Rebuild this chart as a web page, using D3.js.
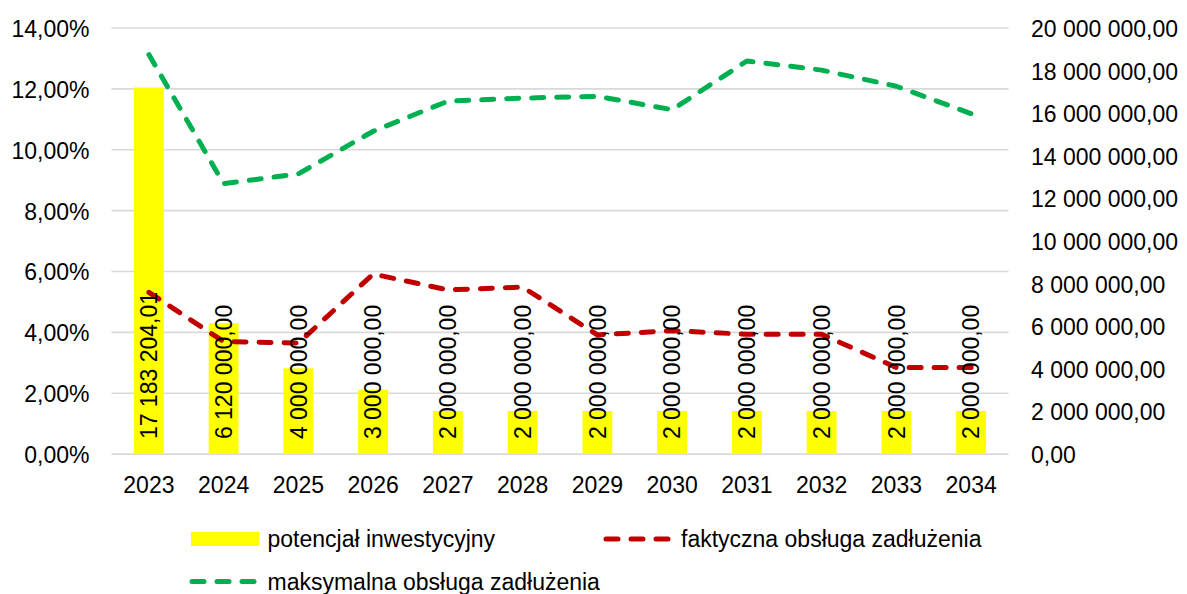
<!DOCTYPE html>
<html>
<head>
<meta charset="utf-8">
<script src="https://cdn.jsdelivr.net/npm/d3@7"></script>
<style>
  html, body { margin: 0; padding: 0; background: #ffffff; }
  svg { display: block; font-family: "Liberation Sans", Arial, sans-serif; }
</style>
</head>
<body>
<svg id="chart" width="1187" height="594"></svg>
<script>
// ---- data ----
const years = ["2023","2024","2025","2026","2027","2028","2029","2030","2031","2032","2033","2034"];
const potencjal = [17183204.01, 6120000, 4000000, 3000000, 2000000, 2000000, 2000000, 2000000, 2000000, 2000000, 2000000, 2000000];
const faktyczna = [0.0530, 0.0368, 0.0363, 0.0590, 0.0538, 0.0547, 0.0390, 0.0404, 0.0392, 0.0392, 0.0283, 0.0283];
const maksymalna = [0.1311, 0.0887, 0.0919, 0.1059, 0.1158, 0.1168, 0.1174, 0.1130, 0.1290, 0.1260, 0.1207, 0.1117];
const leftTicks = [0, 0.02, 0.04, 0.06, 0.08, 0.10, 0.12, 0.14];
const rightTicks = [0, 2e6, 4e6, 6e6, 8e6, 10e6, 12e6, 14e6, 16e6, 18e6, 20e6];
const legendLabels = ["potencjał inwestycyjny", "faktyczna obsługa zadłużenia", "maksymalna obsługa zadłużenia"];

// ---- layout ----
const L = 111.5, R = 1008.5, T = 27.5, B = 453.6;
const FS = 23;
const COL_BAR = "#FFFF00", COL_RED = "#C00000", COL_GREEN = "#00B050", COL_GRID = "#D9D9D9";

const loc = d3.formatLocale({decimal: ",", thousands: " ", grouping: [3], currency: ["", ""], percent: "%"});
const fmtPct = loc.format(".2%");
const fmtNum = loc.format(",.2f");

const svg = d3.select("#chart");

const x = d3.scaleBand().domain(years).range([L, R]).paddingInner(0).paddingOuter(0);
const yL = d3.scaleLinear().domain([0, 0.14]).range([B, T]);
const yR = d3.scaleLinear().domain([0, 20e6]).range([B, T]);

// gridlines
const grid = svg.append("g").attr("transform", `translate(${L},0)`)
  .call(d3.axisLeft(yL).tickValues(leftTicks).tickSize(-(R - L)).tickFormat(""));
grid.select(".domain").remove();
grid.selectAll("line").attr("stroke", COL_GRID).attr("stroke-width", 1.6);

// left axis labels
const gl = svg.append("g").attr("transform", `translate(${L},0)`)
  .call(d3.axisLeft(yL).tickValues(leftTicks).tickSize(0).tickPadding(22).tickFormat(fmtPct));
gl.select(".domain").remove();
gl.selectAll("text").attr("font-size", FS).attr("font-family", "Liberation Sans, Arial, sans-serif")
  .attr("fill", "#000").attr("dy", "0.39em");

// right axis labels
const gr = svg.append("g").attr("transform", `translate(${R},0)`)
  .call(d3.axisRight(yR).tickValues(rightTicks).tickSize(0).tickPadding(22.5).tickFormat(fmtNum));
gr.select(".domain").remove();
gr.selectAll("text").attr("font-size", FS).attr("font-family", "Liberation Sans, Arial, sans-serif")
  .attr("fill", "#000").attr("dy", "0.39em");

// bottom axis labels
const gb = svg.append("g").attr("transform", `translate(0,${B})`)
  .call(d3.axisBottom(x).tickSize(0).tickPadding(23.4));
gb.select(".domain").remove();
gb.selectAll("text").attr("font-size", FS).attr("font-family", "Liberation Sans, Arial, sans-serif")
  .attr("fill", "#000");

// bars
const bw = x.bandwidth() * 0.4;
svg.append("g").selectAll("rect").data(potencjal).enter().append("rect")
  .attr("x", (d, i) => x(years[i]) + x.bandwidth() / 2 - bw / 2)
  .attr("width", bw)
  .attr("y", d => yR(d))
  .attr("height", d => yR(0) - yR(d))
  .attr("fill", COL_BAR);

// lines
const line = d3.line().x((d, i) => x(years[i]) + x.bandwidth() / 2).y(d => yL(d));
function drawLine(data, color) {
  svg.append("path").datum(data).attr("d", line)
    .attr("fill", "none").attr("stroke", color).attr("stroke-width", 5)
    .attr("stroke-dasharray", "12 13").attr("stroke-linecap", "round").attr("stroke-linejoin", "round");
}
drawLine(faktyczna, COL_RED);
drawLine(maksymalna, COL_GREEN);

// bar labels (rotated, inside base)
svg.append("g").selectAll("text").data(potencjal).enter().append("text")
  .attr("transform", (d, i) => `translate(${x(years[i]) + x.bandwidth() / 2},${yR(0) - 14.5}) rotate(-90)`)
  .attr("text-anchor", "start")
  .attr("dy", "0.36em")
  .attr("font-size", FS)
  .attr("fill", "#000")
  .text(d => fmtNum(d));

// legend
const lg = svg.append("g");
lg.append("rect").attr("x", 191).attr("y", 532).attr("width", 68).attr("height", 14).attr("fill", COL_BAR);
lg.append("text").attr("x", 267.5).attr("y", 547).attr("font-size", FS).attr("fill", "#000").text(legendLabels[0]);

lg.append("path").attr("d", d3.line()([[606, 539], [668, 539]]))
  .attr("stroke", COL_RED).attr("stroke-width", 5).attr("stroke-dasharray", "12 13").attr("stroke-linecap", "round").attr("fill", "none");
lg.append("text").attr("x", 681).attr("y", 547).attr("font-size", FS).attr("fill", "#000").text(legendLabels[1]);

lg.append("path").attr("d", d3.line()([[192, 581.5], [254, 581.5]]))
  .attr("stroke", COL_GREEN).attr("stroke-width", 5).attr("stroke-dasharray", "12 13").attr("stroke-linecap", "round").attr("fill", "none");
lg.append("text").attr("x", 267.5).attr("y", 590).attr("font-size", FS).attr("fill", "#000").text(legendLabels[2]);
</script>
</body>
</html>
